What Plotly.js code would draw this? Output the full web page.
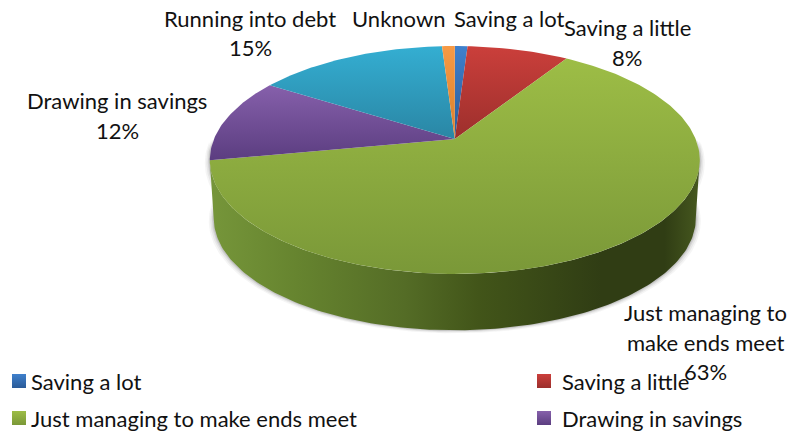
<!DOCTYPE html>
<html>
<head>
<meta charset="utf-8">
<script src="https://cdn.plot.ly/plotly-3.0.1.min.js"></script>
<style>html,body{margin:0;padding:0;background:#fff}#chart{width:792px;height:433px}</style>
</head>
<body>
<div id="chart"></div>
<script>
// Household finances, clockwise from twelve o'clock.
const categories = ["Saving a lot", "Saving a little", "Just managing to make ends meet", "Drawing in savings", "Running into debt", "Unknown"];
const shares = [1, 8, 63, 12, 15, 1];
const shownPercent = [false, true, true, true, true, false];

// Gradient stops per slice: lit top, shaded bottom.
const topColors = ["#3f80cc", "#cb3f3b", "#9dbd46", "#8660ab", "#34aed2", "#f79a45"];
const bottomColors = ["#2a5b98", "#9c2f2c", "#7a9838", "#5b3d80", "#2a86a4", "#d97f2c"];

// Data-label lines and their anchors, in pixels.
const labelLines = [
  {cat: 0, lines: ["Saving a lot"], x: 509, y: [18]},
  {cat: 1, lines: ["Saving a little"], x: 627, y: [27, 57]},
  {cat: 2, lines: ["Just managing to", "make ends meet"], x: 705, y: [312, 342, 371]},
  {cat: 3, lines: ["Drawing in savings"], x: 117, y: [100, 130]},
  {cat: 4, lines: ["Running into debt"], x: 250, y: [18, 47]},
  {cat: 5, lines: ["Unknown"], x: 398, y: [18]}
];
// Two-column key under the pie.
const legendSlots = [
  {cat: 0, x: 19, y: 381, textX: 30},
  {cat: 1, x: 544, y: 381, textX: 561},
  {cat: 2, x: 19, y: 418, textX: 30},
  {cat: 3, x: 544, y: 418, textX: 561}
];

// Perspective of the disc: apex position, half axes, foreshortening.
const apexX = 454.8, apexY = 139, halfW = 240.8, halfH = 110.1, tilt = 0.184;
const depth = 57, baseScale = 0.984;

function project(deg) {
  const t = deg * Math.PI / 180, s = Math.sin(t), c = Math.cos(t), w = 1 + tilt * c;
  return [apexX + halfW * s / w, apexY - halfH * c / w];
}
function baseProject(deg) {
  const p = project(deg);
  return [apexX + (p[0] - apexX) * baseScale, apexY + (p[1] - apexY) * baseScale + depth + 1.5];
}
function arc(fn, from, to) {
  const pts = [], n = Math.max(2, Math.ceil(Math.abs(to - from)));
  for (let i = 0; i <= n; i++) pts.push(fn(from + (to - from) * i / n));
  return pts;
}
function area(pts, extra) {
  return Object.assign({
    type: "scatter", mode: "lines", x: pts.map(p => p[0]), y: pts.map(p => p[1]),
    fill: "toself", line: {width: 0}, hoverinfo: "skip", showlegend: false
  }, extra);
}

const total = shares.reduce((a, b) => a + b, 0);
const traces = [];

// Soft shadow hugging the lower rim.
[[5, 0.05], [3.5, 0.07], [2, 0.1], [1, 0.12]].forEach(([grow, alpha]) => {
  const rim = arc(baseProject, 90, 270).concat(arc(project, 270, 90));
  const pts = rim.map(p => [apexX + (p[0] - apexX) * (1 + grow / 245), p[1] + grow * 0.6]);
  traces.push(area(pts, {fillcolor: "rgba(60,60,60," + alpha + ")"}));
});

// Outer wall: the lower half of both rims; the tangent sits at the sides of the ellipse.
const leftDeg = 259, rightDeg = 100;
const wall = arc(project, rightDeg, leftDeg).concat(arc(baseProject, leftDeg, rightDeg));
traces.push(area(wall, {
  name: "wall",
  fillgradient: {
    type: "horizontal", start: 209, stop: 699,
    colorscale: [[0, "#76963a"], [0.18, "#66842f"], [0.4, "#546c26"], [0.55, "#425519"], [0.8, "#303d14"], [0.93, "#303d14"], [1, "#46581f"]]
  }
}));

// Top face, one wedge per category.
let running = 0;
shares.forEach((share, i) => {
  const from = running / total * 360, to = (running + share) / total * 360;
  running += share;
  const pts = [[apexX, apexY]].concat(arc(project, from, to));
  const ys = pts.map(p => p[1]);
  traces.push(area(pts, {
    name: categories[i],
    fillgradient: {
      type: "vertical", start: Math.min(...ys), stop: Math.max(...ys),
      colorscale: [[0, topColors[i]], [1, bottomColors[i]]]
    }
  }));
});

// Key swatches.
traces.push({
  type: "scatter", mode: "markers", hoverinfo: "skip", showlegend: false,
  x: legendSlots.map(s => s.x), y: legendSlots.map(s => s.y),
  marker: {
    symbol: "square", size: 14, line: {width: 0},
    color: legendSlots.map(s => topColors[s.cat]),
    gradient: {type: "vertical", color: legendSlots.map(s => bottomColors[s.cat])}
  }
});

const textFont = {family: "Lato, sans-serif", size: 22, color: "#111111"};
const note = (text, x, y, anchor) => ({
  text, x, y, xref: "x", yref: "y", xanchor: anchor, yanchor: "middle",
  showarrow: false, font: textFont, borderpad: 0
});
const annotations = [];
labelLines.forEach(l => {
  l.lines.forEach((t, k) => annotations.push(note(t, l.x, l.y[k], "center")));
  if (shownPercent[l.cat]) annotations.push(note(shares[l.cat] + "%", l.x, l.y[l.lines.length], "center"));
});
legendSlots.forEach(s => annotations.push(note(categories[s.cat], s.textX, s.y, "left")));

Plotly.newPlot("chart", traces, {
  width: 792, height: 433,
  margin: {l: 0, r: 0, t: 0, b: 0},
  paper_bgcolor: "#ffffff", plot_bgcolor: "#ffffff",
  xaxis: {range: [0, 792], visible: false, fixedrange: true},
  yaxis: {range: [433, 0], visible: false, fixedrange: true},
  showlegend: false,
  annotations
}, {displayModeBar: false, staticPlot: true});
</script>
</body>
</html>
